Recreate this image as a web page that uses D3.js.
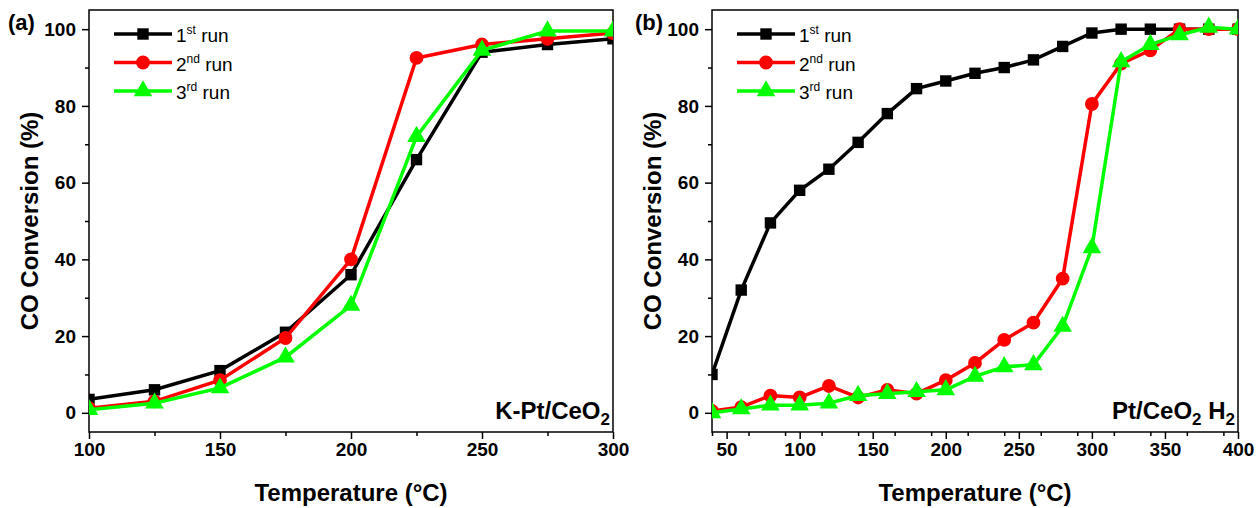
<!DOCTYPE html>
<html>
<head>
<meta charset="utf-8">
<script src="https://cdn.jsdelivr.net/npm/d3@7"></script>
<style>
  body { margin: 0; background: #fff; }
  svg { display: block; font-family: "Liberation Sans", Arial, sans-serif; }
</style>
</head>
<body>
<svg id="chart" width="1258" height="508"></svg>
<script>
// panel (a) K-Pt/CeO2
const tempA = [100, 125, 150, 175, 200, 225, 250, 275, 300];
const run1A = [3.5, 6, 11, 21, 36, 66, 94, 96, 97.5];
const run2A = [1.2, 3, 8.5, 19.5, 40, 92.5, 96, 97.5, 99];
const run3A = [0.8, 2.5, 6.5, 14.5, 28, 72, 94.5, 99.5, 99.5];

// panel (b) Pt/CeO2 H2
const tempB = [40, 60, 80, 100, 120, 140, 160, 180, 200, 220, 240, 260, 280, 300, 320, 340, 360, 380, 400];
const run1B = [10, 32, 49.5, 58, 63.5, 70.5, 78, 84.5, 86.5, 88.5, 90, 92, 95.5, 99, 100, 100, 100, 100, 100];
const run2B = [0.5, 1.5, 4.5, 4, 7, 4, 6, 5, 8.5, 13, 19, 23.5, 35, 80.5, 91, 94.5, 100, 100, 100];
const run3B = [0, 1, 2, 2, 2.5, 4.5, 5, 5.5, 6, 9.5, 12, 12.5, 22.5, 43, 91.5, 96, 98.5, 100.5, 100];

const yTicks = [0, 20, 40, 60, 80, 100];
const runNames = [["1", "st"], ["2", "nd"], ["3", "rd"]];
const runColors = ["#000000", "#ff0000", "#00ff00"];
const runShapes = [d3.symbolSquare, d3.symbolCircle, d3.symbolTriangle];
const runSizes = [130, 150, 150];

const svg = d3.select("#chart");

function drawPanel(opt) {
  const x = d3.scaleLinear().domain(opt.xDomain).range([opt.left, opt.right]);
  const y = d3.scaleLinear().domain([-5, 105]).range([432, 10]);

  const g = svg.append("g");
  const clipId = "clip-" + opt.tag;
  svg.append("clipPath").attr("id", clipId)
    .append("rect")
    .attr("x", opt.left).attr("y", 10)
    .attr("width", opt.right - opt.left).attr("height", 422);

  // minor ticks
  const xMinor = d3.range(opt.xDomain[0], opt.xDomain[1] + 1, 25).filter(v => v % 50 !== 0);
  g.append("g").attr("transform", `translate(0,432)`)
    .call(d3.axisBottom(x).tickValues(xMinor).tickSize(4).tickFormat(""))
    .call(a => a.select(".domain").remove());
  g.append("g").attr("transform", `translate(${opt.left},0)`)
    .call(d3.axisLeft(y).tickValues(d3.range(10, 100, 20)).tickSize(4).tickFormat(""))
    .call(a => a.select(".domain").remove());

  // major ticks
  const xAxis = g.append("g").attr("transform", `translate(0,432)`)
    .call(d3.axisBottom(x).tickValues(opt.xTicks).tickSize(7).tickPadding(4));
  const yAxis = g.append("g").attr("transform", `translate(${opt.left},0)`)
    .call(d3.axisLeft(y).tickValues(yTicks).tickSize(7).tickPadding(6));
  [xAxis, yAxis].forEach(a => {
    a.select(".domain").remove();
    a.selectAll("text").attr("font-size", 19).attr("font-weight", "bold")
      .attr("fill", "#000").attr("font-family", "Liberation Sans, Arial, sans-serif");
  });
  g.selectAll(".tick line").attr("stroke", "#000").attr("stroke-width", 1.5);

  // frame
  g.append("rect")
    .attr("x", opt.left).attr("y", 10)
    .attr("width", opt.right - opt.left).attr("height", 422)
    .attr("fill", "none").attr("stroke", "#000").attr("stroke-width", 1.5);

  // series
  const plot = g.append("g").attr("clip-path", `url(#${clipId})`);
  const line = d3.line().x(d => x(d[0])).y(d => y(d[1]));
  opt.series.forEach((vals, i) => {
    const pts = opt.temps.map((t, k) => [t, vals[k]]);
    plot.append("path").datum(pts)
      .attr("d", line).attr("fill", "none")
      .attr("stroke", runColors[i]).attr("stroke-width", 3.5);
    plot.selectAll(null).data(pts).enter().append("path")
      .attr("transform", d => `translate(${x(d[0])},${y(d[1])})`)
      .attr("d", d3.symbol().type(runShapes[i]).size(runSizes[i]))
      .attr("fill", runColors[i]);
  });

  // legend
  const lx = opt.left + 25;
  runNames.forEach((nm, i) => {
    const ly = 34 + i * 28.5;
    const lg = g.append("g");
    lg.append("line").attr("x1", lx).attr("x2", lx + 58)
      .attr("y1", ly).attr("y2", ly)
      .attr("stroke", runColors[i]).attr("stroke-width", 3.5);
    lg.append("path").attr("transform", `translate(${lx + 29},${ly})`)
      .attr("d", d3.symbol().type(runShapes[i]).size(runSizes[i]))
      .attr("fill", runColors[i]);
    const t = lg.append("text").attr("x", lx + 62).attr("y", ly + 8)
      .attr("font-size", 19).attr("fill", "#000");
    t.append("tspan").text(nm[0]);
    t.append("tspan").attr("dy", -8).attr("font-size", 12).text(nm[1]);
    t.append("tspan").attr("dy", 8).text(" run");
  });

  // sample label
  const st = g.append("text").attr("x", opt.right - 3).attr("y", 419)
    .attr("text-anchor", "end").attr("font-size", 24).attr("font-weight", "bold")
    .attr("fill", "#000");
  opt.sample.forEach(p => {
    if (p.sub) st.append("tspan").attr("dy", 6).attr("font-size", 17).text(p.t);
    else st.append("tspan").attr("dy", p.after ? -6 : 0).text(p.t);
  });

  // axis titles
  g.append("text").attr("x", (opt.left + opt.right) / 2).attr("y", 501)
    .attr("text-anchor", "middle").attr("font-size", 24).attr("font-weight", "bold")
    .text("Temperature (°C)");
  g.append("text")
    .attr("transform", `translate(${opt.left - 51},221) rotate(-90)`)
    .attr("text-anchor", "middle").attr("font-size", 24).attr("font-weight", "bold")
    .text("CO Conversion (%)");

  // panel letter
  g.append("text").attr("x", opt.letterX).attr("y", 30)
    .attr("font-size", 22).attr("font-weight", "bold").text(opt.letter);
}

drawPanel({
  tag: "a", letter: "(a)", letterX: 8,
  left: 89, right: 613, xDomain: [100, 300], xTicks: [100, 150, 200, 250, 300],
  temps: tempA, series: [run1A, run2A, run3A],
  sample: [{ t: "K-Pt/CeO" }, { t: "2", sub: true }]
});

drawPanel({
  tag: "b", letter: "(b)", letterX: 635,
  left: 712, right: 1238, xDomain: [40, 400], xTicks: [50, 100, 150, 200, 250, 300, 350, 400],
  temps: tempB, series: [run1B, run2B, run3B],
  sample: [{ t: "Pt/CeO" }, { t: "2", sub: true }, { t: " H", after: true }, { t: "2", sub: true }]
});
</script>
</body>
</html>
